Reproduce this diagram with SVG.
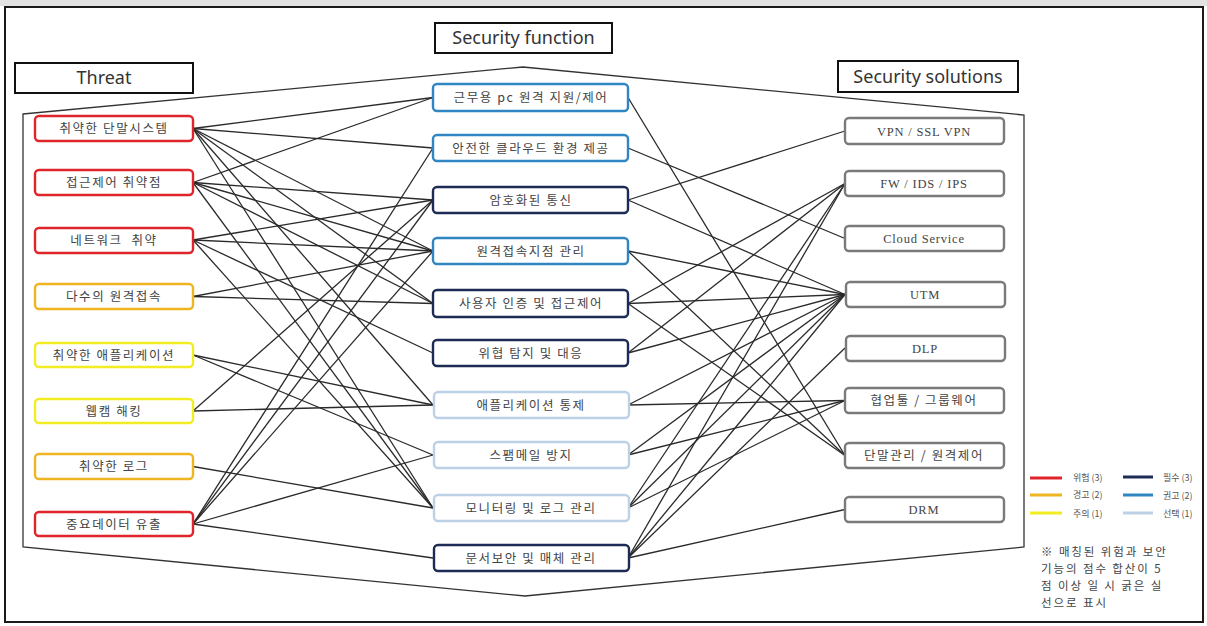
<svg xmlns="http://www.w3.org/2000/svg" width="1207" height="626" viewBox="0 0 1207 626">
<style>
.hdr{fill:#fff;stroke:#111;stroke-width:2}
.hdrt{font-family:"Noto Sans","Open Sans",sans-serif;font-size:18px;fill:#333;text-anchor:middle}
.node rect{fill:#fff;stroke-width:2.4}
.kt{font-family:"Noto Sans CJK KR","Noto Sans",sans-serif;font-size:12.5px;fill:#444;text-anchor:middle;letter-spacing:1.6px}
.st{font-family:"Liberation Serif","Noto Sans CJK KR",serif;font-size:12.5px;fill:#444;text-anchor:middle;letter-spacing:0.8px}
.red{stroke:#e0242c}.amb{stroke:#efb521}.yel{stroke:#f2ed22}
.nav{stroke:#1d2b55}.blu{stroke:#2f86c3}.lbl{stroke:#bcd0e6}.gry{stroke:#7a7a7a}
#connectors line{stroke:#2a2a2a;stroke-width:1.3}
.lg{font-family:"Noto Sans CJK KR","Noto Sans",sans-serif;font-size:9px;fill:#555}
.note{font-family:"Noto Sans CJK KR","Noto Sans",sans-serif;font-size:11.5px;fill:#444;letter-spacing:1.9px}
</style>
<rect x="0" y="0" width="1207" height="626" fill="#fff"/>
<rect x="0" y="0" width="1207" height="6" fill="#e2e2e2"/>
<rect x="5" y="7" width="1198" height="615" fill="#fff" stroke="#1a1a1a" stroke-width="2"/>
<polygon points="23,114 523,67 1024,115 1024,547 525,596 23,547" fill="none" stroke="#333" stroke-width="1.3"/>
<g id="headers">
<g id="h-function"><rect class="hdr" x="435" y="23" width="177" height="30"/><text class="hdrt" x="523.5" y="44">Security function</text></g>
<g id="h-threat"><rect class="hdr" x="15" y="63" width="178" height="30"/><text class="hdrt" x="104" y="84">Threat</text></g>
<g id="h-solutions"><rect class="hdr" x="838" y="61" width="180" height="31"/><text class="hdrt" x="928" y="83">Security solutions</text></g>
</g>
<g id="connectors">
<line x1="193" y1="128.5" x2="433" y2="97.5"/>
<line x1="193" y1="128.5" x2="433" y2="148"/>
<line x1="193" y1="128.5" x2="433" y2="251"/>
<line x1="193" y1="128.5" x2="433" y2="303.5"/>
<line x1="193" y1="128.5" x2="433" y2="405"/>
<line x1="193" y1="128.5" x2="433" y2="508"/>
<line x1="193" y1="182.5" x2="433" y2="97.5"/>
<line x1="193" y1="182.5" x2="433" y2="200"/>
<line x1="193" y1="182.5" x2="433" y2="251"/>
<line x1="193" y1="182.5" x2="433" y2="303.5"/>
<line x1="193" y1="182.5" x2="433" y2="508"/>
<line x1="193" y1="240" x2="433" y2="200"/>
<line x1="193" y1="240" x2="433" y2="251"/>
<line x1="193" y1="240" x2="433" y2="353"/>
<line x1="193" y1="240" x2="433" y2="508"/>
<line x1="193" y1="296.5" x2="433" y2="251"/>
<line x1="193" y1="296.5" x2="433" y2="303.5"/>
<line x1="193" y1="355" x2="433" y2="405"/>
<line x1="193" y1="355" x2="433" y2="455"/>
<line x1="193" y1="411" x2="433" y2="200"/>
<line x1="193" y1="411" x2="433" y2="405"/>
<line x1="193" y1="466.5" x2="433" y2="508"/>
<line x1="193" y1="524" x2="433" y2="148"/>
<line x1="193" y1="524" x2="433" y2="200"/>
<line x1="193" y1="524" x2="433" y2="251"/>
<line x1="193" y1="524" x2="433" y2="455"/>
<line x1="193" y1="524" x2="433" y2="558"/>
<line x1="628" y1="97.5" x2="845" y2="455.5"/>
<line x1="628" y1="148" x2="845" y2="238.5"/>
<line x1="628" y1="200" x2="845" y2="131"/>
<line x1="628" y1="200" x2="845" y2="294.5"/>
<line x1="628" y1="251" x2="845" y2="294.5"/>
<line x1="628" y1="251" x2="845" y2="455.5"/>
<line x1="628" y1="303.5" x2="845" y2="183.5"/>
<line x1="628" y1="303.5" x2="845" y2="294.5"/>
<line x1="628" y1="303.5" x2="845" y2="455.5"/>
<line x1="628" y1="353" x2="845" y2="183.5"/>
<line x1="628" y1="353" x2="845" y2="294.5"/>
<line x1="628" y1="405" x2="845" y2="294.5"/>
<line x1="628" y1="405" x2="845" y2="400.5"/>
<line x1="628" y1="455" x2="845" y2="294.5"/>
<line x1="628" y1="455" x2="845" y2="400.5"/>
<line x1="628" y1="508" x2="845" y2="183.5"/>
<line x1="628" y1="508" x2="845" y2="294.5"/>
<line x1="628" y1="508" x2="845" y2="400.5"/>
<line x1="628" y1="558" x2="845" y2="183.5"/>
<line x1="628" y1="558" x2="845" y2="294.5"/>
<line x1="628" y1="558" x2="845" y2="348"/>
<line x1="628" y1="558" x2="845" y2="509.5"/>
</g>
<g id="t1" class="node"><rect class="red" x="35" y="116" width="158" height="25" rx="4"/><text class="kt" x="114" y="133">취약한 단말시스템</text></g>
<g id="t2" class="node"><rect class="red" x="35" y="170" width="158" height="25" rx="4"/><text class="kt" x="114" y="187">접근제어 취약점</text></g>
<g id="t3" class="node"><rect class="red" x="35" y="228" width="158" height="25" rx="4"/><text class="kt" x="114" y="245">네트워크&#160; 취약</text></g>
<g id="t4" class="node"><rect class="amb" x="35" y="284" width="158" height="25" rx="4"/><text class="kt" x="114" y="301">다수의 원격접속</text></g>
<g id="t5" class="node"><rect class="yel" x="35" y="343" width="158" height="24" rx="4"/><text class="kt" x="114" y="359.5">취약한 애플리케이션</text></g>
<g id="t6" class="node"><rect class="yel" x="35" y="399" width="158" height="24" rx="4"/><text class="kt" x="114" y="415.5">웹캠 해킹</text></g>
<g id="t7" class="node"><rect class="amb" x="35" y="454" width="158" height="25" rx="4"/><text class="kt" x="114" y="471">취약한 로그</text></g>
<g id="t8" class="node"><rect class="red" x="35" y="512" width="158" height="24" rx="4"/><text class="kt" x="114" y="528.5">중요데이터 유출</text></g>
<g id="f1" class="node"><rect class="blu" x="433" y="84" width="195" height="27" rx="4"/><text class="kt" x="531" y="102">근무용 pc 원격 지원/제어</text></g>
<g id="f2" class="node"><rect class="blu" x="433" y="135" width="195" height="26" rx="4"/><text class="kt" x="531" y="152.5">안전한 클라우드 환경 제공</text></g>
<g id="f3" class="node"><rect class="nav" x="433" y="187" width="195" height="26" rx="4"/><text class="kt" x="531" y="204.5">암호화된 통신</text></g>
<g id="f4" class="node"><rect class="blu" x="433" y="238" width="195" height="26" rx="4"/><text class="kt" x="531" y="255.5">원격접속지점 관리</text></g>
<g id="f5" class="node"><rect class="nav" x="433" y="290" width="195" height="27" rx="4"/><text class="kt" x="531" y="308">사용자 인증 및 접근제어</text></g>
<g id="f6" class="node"><rect class="nav" x="433" y="340" width="195" height="26" rx="4"/><text class="kt" x="531" y="357.5">위협 탐지 및 대응</text></g>
<g id="f7" class="node"><rect class="lbl" x="434" y="392" width="195" height="26" rx="4"/><text class="kt" x="531" y="409.5">애플리케이션 통제</text></g>
<g id="f8" class="node"><rect class="lbl" x="434" y="442" width="195" height="26" rx="4"/><text class="kt" x="531" y="459.5">스팸메일 방지</text></g>
<g id="f9" class="node"><rect class="lbl" x="434" y="495" width="195" height="26" rx="4"/><text class="kt" x="531" y="512.5">모니터링 및 로그 관리</text></g>
<g id="f10" class="node"><rect class="nav" x="434" y="545" width="195" height="26" rx="4"/><text class="kt" x="531" y="562.5">문서보안 및 매체 관리</text></g>
<g id="s1" class="node"><rect class="gry" x="845" y="118" width="159" height="26" rx="4"/><text class="st" x="924" y="135.5">VPN / SSL VPN</text></g>
<g id="s2" class="node"><rect class="gry" x="845" y="171" width="159" height="25" rx="4"/><text class="st" x="924" y="188">FW / IDS / IPS</text></g>
<g id="s3" class="node"><rect class="gry" x="845" y="226" width="159" height="25" rx="4"/><text class="st" x="924" y="243">Cloud Service</text></g>
<g id="s4" class="node"><rect class="gry" x="846" y="282" width="159" height="25" rx="4"/><text class="st" x="925" y="299">UTM</text></g>
<g id="s5" class="node"><rect class="gry" x="846" y="336" width="159" height="25" rx="4"/><text class="st" x="925" y="353">DLP</text></g>
<g id="s6" class="node"><rect class="gry" x="845" y="388" width="159" height="25" rx="4"/><text class="kt" x="924" y="405">협업툴 / 그룹웨어</text></g>
<g id="s7" class="node"><rect class="gry" x="845" y="443" width="159" height="25" rx="4"/><text class="kt" x="924" y="460">단말관리 / 원격제어</text></g>
<g id="s8" class="node"><rect class="gry" x="845" y="497" width="159" height="25" rx="4"/><text class="st" x="924" y="514">DRM</text></g>
<g id="legend">
<line x1="1030" y1="478" x2="1062" y2="478" stroke="#e0242c" stroke-width="3"/>
<text class="lg" x="1073" y="481">위험 (3)</text>
<line x1="1123" y1="477" x2="1153" y2="477" stroke="#1d2b55" stroke-width="3"/>
<text class="lg" x="1163" y="481">필수 (3)</text>
<line x1="1030" y1="495" x2="1062" y2="495" stroke="#efb521" stroke-width="3"/>
<text class="lg" x="1073" y="498">경고 (2)</text>
<line x1="1123" y1="495" x2="1153" y2="495" stroke="#2f86c3" stroke-width="3"/>
<text class="lg" x="1163" y="499">권고 (2)</text>
<line x1="1030" y1="513" x2="1062" y2="513" stroke="#f2ed22" stroke-width="3"/>
<text class="lg" x="1073" y="517">주의 (1)</text>
<line x1="1123" y1="513" x2="1153" y2="513" stroke="#bcd0e6" stroke-width="3"/>
<text class="lg" x="1163" y="517">선택 (1)</text>
</g>
<g id="note">
<text class="note" x="1041" y="556">※ 매칭된 위험과 보안</text>
<text class="note" x="1041" y="573">기능의 점수 합산이 5</text>
<text class="note" x="1041" y="590">점 이상 일 시 굵은 실</text>
<text class="note" x="1041" y="607">선으로 표시</text>
</g>
</svg>
